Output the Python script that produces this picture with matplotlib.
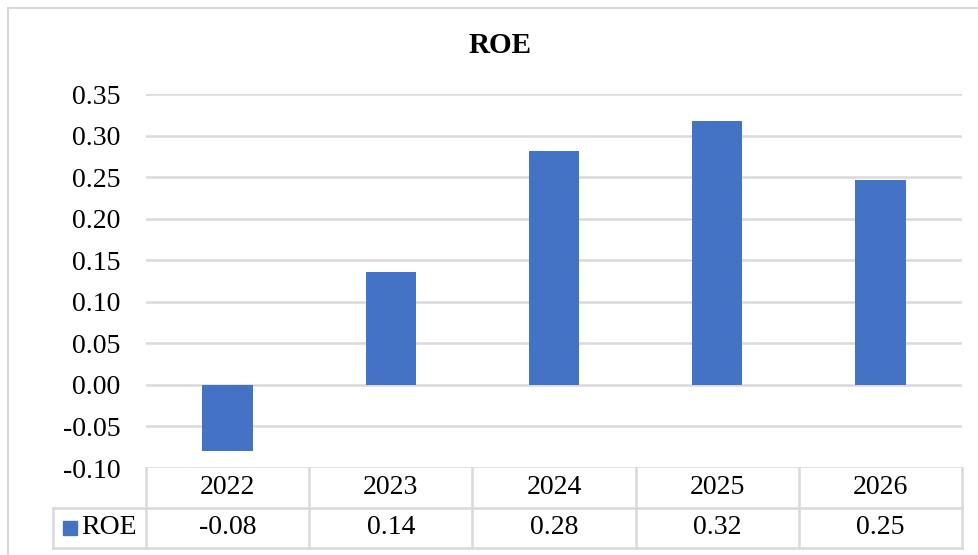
import matplotlib.pyplot as plt
from matplotlib.patches import Rectangle
from matplotlib.lines import Line2D

years = ['2022', '2023', '2024', '2025', '2026']
roe = [-0.080, 0.136, 0.281, 0.318, 0.246]
series_name = 'ROE'

BLUE = '#4472C4'
GRID = '#d9d9d9'
W, H = 979, 555
FS = 20

plt.rcParams['font.family'] = ['Liberation Serif', 'DejaVu Serif']

fig = plt.figure(figsize=(W / 100, H / 100), dpi=100)

# outer chart frame (runs off right and bottom edges)
fig.patches.append(Rectangle((8 / W, -0.05), 1.1, 1 - 8 / H + 0.05,
                             transform=fig.transFigure, fill=False,
                             edgecolor=GRID, linewidth=1.5))

left, right, top, bottom = 146, 962, 94, 468
ax = fig.add_axes([left / W, 1 - bottom / H, (right - left) / W, (bottom - top) / H])

x = range(len(years))
ax.bar(x, roe, width=0.31, color=BLUE, zorder=3)
ax.set_xlim(-0.5, len(years) - 0.5)
ax.set_ylim(-0.10, 0.35)
ax.set_yticks([i * 0.05 for i in range(-2, 8)])
ax.set_yticklabels([f'{i * 0.05:.2f}' for i in range(-2, 8)], fontsize=FS)
ax.tick_params(axis='y', length=0, pad=18.5)
ax.set_xticks([])
ax.grid(axis='y', color=GRID, linewidth=1.8, zorder=0)
for s in ax.spines.values():
    s.set_visible(False)

fig.text(500 / W, 1 - 45 / H, series_name, ha='center', va='center',
         fontsize=21, fontweight='bold')

# data table below the axis
ah = bottom - top
aw = right - left
r1 = -(508 - 468) / ah
r2 = -(548 - 468) / ah
lab_left = (53 - left) / aw
n = len(years)

def line(xs, ys):
    ax.add_line(Line2D(xs, ys, transform=ax.transAxes, color=GRID,
                       linewidth=1.8, clip_on=False))

line([0, 1], [r1, r1])
line([lab_left, 1], [r2, r2])
line([lab_left, 0], [r1, r1])
line([lab_left, lab_left], [r1, r2])
for i in range(n + 1):
    line([i / n, i / n], [0, r2])

for i, (yr, v) in enumerate(zip(years, roe)):
    cx = (i + 0.5) / n
    ax.text(cx, r1 / 2, yr, transform=ax.transAxes, ha='center', va='center',
            fontsize=FS)
    ax.text(cx, (r1 + r2) / 2, f'{v:.2f}', transform=ax.transAxes,
            ha='center', va='center', fontsize=FS)

ax.add_patch(Rectangle(((63 - left) / aw, (r1 + r2) / 2 - 7 / ah), 14 / aw, 14 / ah,
                       transform=ax.transAxes, color=BLUE, clip_on=False))
ax.text((81 - left) / aw, (r1 + r2) / 2, series_name, transform=ax.transAxes,
        ha='left', va='center', fontsize=FS)

fig.savefig('out.png', dpi=100)
